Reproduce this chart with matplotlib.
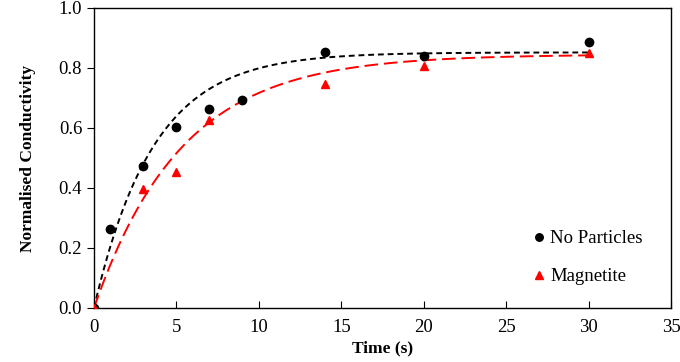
import numpy as np
import matplotlib
matplotlib.use("Agg")
import matplotlib.pyplot as plt

plt.rcParams['font.family'] = ['Liberation Serif', 'DejaVu Serif']

# Data
t_none = [0, 1, 3, 5, 7, 9, 14, 20, 30]
y_none = [0.0, 0.262, 0.472, 0.603, 0.665, 0.694, 0.852, 0.840, 0.888]
t_mag = [0, 3, 5, 7, 14, 20, 30]
y_mag = [0.0, 0.397, 0.453, 0.627, 0.746, 0.808, 0.851]

# Exponential fit parameters y = A * (1 - exp(-t / tau))
fit_none = (0.852, 3.6)
fit_mag = (0.845, 5.3)

x_ticks = [0, 5, 10, 15, 20, 25, 30, 35]
y_ticks = [0.0, 0.2, 0.4, 0.6, 0.8, 1.0]

fig = plt.figure(figsize=(6.8, 3.62), dpi=100)
ax = fig.add_axes([94/680, 1 - 308/362, 577/680, 300/362])

tt = np.linspace(0, 30, 300)
A, tau = fit_none
ax.plot(tt, A * (1 - np.exp(-tt / tau)), color='black', lw=1.4, dashes=(3, 2))
A, tau = fit_mag
ax.plot(tt, A * (1 - np.exp(-tt / tau)), color='#ff0000', lw=1.4, dashes=(7, 3))

ax.plot(t_none, y_none, 'o', color='black', ms=6, label='No Particles', zorder=3)
ax.plot(t_mag, y_mag, '^', color='#ff0000', ms=6, label='Magnetite', zorder=3)

ax.set_xlim(0, 35)
ax.set_ylim(0, 1.0)
ax.set_xticks(x_ticks)
ax.set_yticks(y_ticks)
ax.set_yticklabels([f"{v:.1f}" for v in y_ticks])
ax.tick_params(axis='x', direction='in', length=5, labelsize=13.5, pad=8)
ax.tick_params(axis='y', direction='out', length=5, labelsize=13.5)
for s in ax.spines.values():
    s.set_linewidth(1.0)

ax.set_xlabel('Time (s)', fontsize=12.5, fontweight='bold', labelpad=3)
ax.set_ylabel('Normalised Conductivity', fontsize=12.5, fontweight='bold', labelpad=16)

leg = ax.legend(loc='lower right', bbox_to_anchor=(0.98, 0.02), frameon=False,
                fontsize=13.5, handlelength=0.6, handletextpad=0.3, labelspacing=1.1,
                markerscale=0.9)

fig.savefig('out.png', dpi=100)
